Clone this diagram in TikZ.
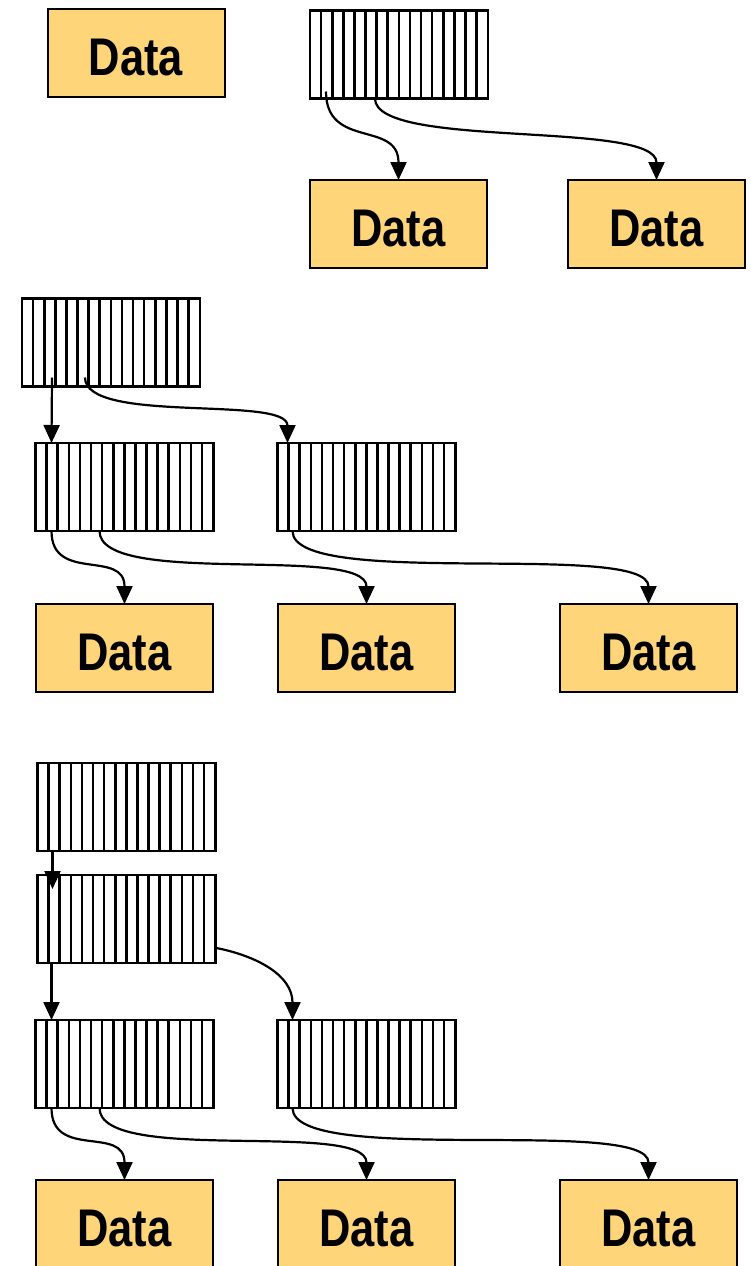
\documentclass[tikz,border=0pt]{standalone}
\usepackage{fontspec}
\newfontfamily\datafont[FakeStretch=0.82]{Liberation Sans}
\usetikzlibrary{arrows.meta,calc}
\definecolor{datafill}{HTML}{FFD57A}
\tikzset{
  databox/.style={draw=black, line width=2pt, fill=datafill, minimum width=177pt, minimum height=88pt,
    inner sep=0pt, outer sep=0pt, text height=44pt, text depth=0pt,
    font=\datafont\bfseries\fontsize{53}{53}\selectfont},
  stripebox/.style={draw=black, line width=2.8pt, fill=white, minimum width=178pt, minimum height=88pt,
    inner sep=0pt, outer sep=0pt},
  stripeline/.style={line width=2.6pt},
  arr/.style={line width=2.2pt, -{Triangle[length=18pt,width=16pt]}},
}
\newcommand{\mystripes}[1]{%
  \foreach \k in {1,...,15} {
    \draw[stripeline] ($(#1.north west)+({11.1*\k},0)$) -- ($(#1.south west)+({11.1*\k},0)$);
  }%
}
\begin{document}
\begin{tikzpicture}[x=1pt,y=-1pt]
\useasboundingbox (0,0) rectangle (751,1266);

% top section
\node[databox] (d0) at (136,53) {Data};
\node[stripebox] (s1) at (399,54.5) {};
\mystripes{s1}
\node[databox] (d1) at (398.5,224) {Data};
\node[databox] (d2) at (656.5,224) {Data};
\draw[arr] ($(s1.south west)+(16,-7)$) .. controls +(0,58) and +(0,-60) .. (d1.north);
\draw[arr] ($(s1.south west)+(65,0)$) .. controls +(0,51) and +(0,-60) .. (d2.north);

% middle section
\node[stripebox] (sa) at (111,342.5) {};
\mystripes{sa}
\node[stripebox] (sb) at (124.5,487) {};
\mystripes{sb}
\node[stripebox] (sc) at (366.5,487) {};
\mystripes{sc}
\node[databox] (m1) at (124.5,648) {Data};
\node[databox] (m2) at (366.5,648) {Data};
\node[databox] (m3) at (648.5,648) {Data};
\coordinate (sbtop) at ($(sb.north west)+(16,0)$);
\coordinate (sctop) at ($(sc.north west)+(10,0)$);
\draw[arr] ($(sa.south west)+(30,-9)$) -- (sbtop);
\draw[arr] ($(sa.south west)+(63,-9)$) .. controls +(0,47) and +(0,-48) .. (sctop);
\draw[arr] ($(sb.south west)+(16,0)$) .. controls +(0,52) and +(0,-55) .. (m1.north);
\draw[arr] ($(sb.south west)+(64,0)$) .. controls +(0,57) and +(0,-60) .. (m2.north);
\draw[arr] ($(sc.south west)+(15,0)$) .. controls +(0,59) and +(0,-64) .. (m3.north);

% bottom section
\node[stripebox] (sd) at (126.5,807) {};
\mystripes{sd}
\node[stripebox] (se) at (126.5,919) {};
\mystripes{se}
\node[stripebox] (sf) at (124.5,1064) {};
\mystripes{sf}
\node[stripebox] (sg) at (366.5,1064) {};
\mystripes{sg}
\node[databox] (b1) at (124.5,1224) {Data};
\node[databox] (b2) at (366.5,1224) {Data};
\node[databox] (b3) at (648.5,1224) {Data};
\coordinate (setip) at ($(se.north west)+(15,14)$);
\coordinate (sftop) at ($(sf.north west)+(16,0)$);
\coordinate (sgtop) at ($(sg.north west)+(15,0)$);
\draw[arr] ($(sd.south west)+(15,0)$) -- (setip);
\draw[arr] ($(se.south west)+(14,0)$) -- (sftop);
\draw[arr] ($(se.south east)+(1,-15)$) .. controls +(40,8) and +(0,-45) .. (sgtop);
\draw[arr] ($(sf.south west)+(16,0)$) .. controls +(0,52) and +(0,-55) .. (b1.north);
\draw[arr] ($(sf.south west)+(64,0)$) .. controls +(0,57) and +(0,-60) .. (b2.north);
\draw[arr] ($(sg.south west)+(15,0)$) .. controls +(0,59) and +(0,-64) .. (b3.north);
\end{tikzpicture}
\end{document}
